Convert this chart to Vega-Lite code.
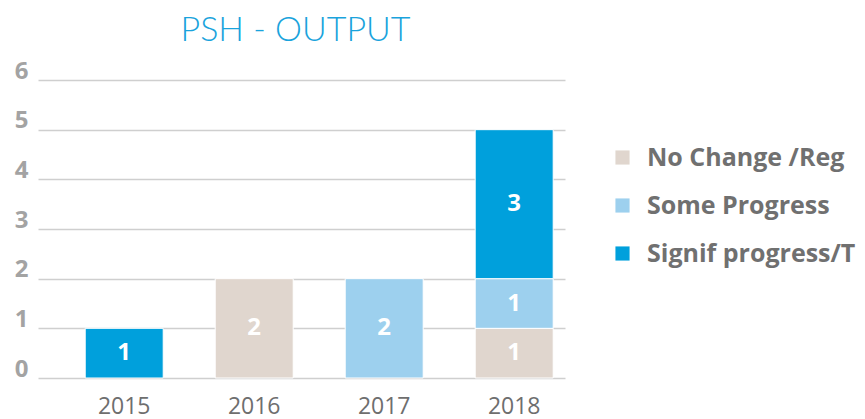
{
  "$schema": "https://vega.github.io/schema/vega-lite/v6.json",
  "autosize": "none",
  "width": 527,
  "height": 298,
  "padding": {"left": 38, "top": 80, "right": 300, "bottom": 41},
  "background": "white",
  "config": {"view": {"stroke": null}},
  "title": {
    "text": "PSH - OUTPUT",
    "font": "Lato",
    "fontWeight": 300,
    "fontSize": 34,
    "color": "#1aa3dc",
    "anchor": "middle",
    "offset": 11,
    "dx": -6
  },
  "data": {
    "values": [
      {"year": "2015", "category": "Signif progress/T", "value": 1, "ord": 3},
      {"year": "2016", "category": "No Change /Reg", "value": 2, "ord": 1},
      {"year": "2017", "category": "Some Progress", "value": 2, "ord": 2},
      {"year": "2018", "category": "No Change /Reg", "value": 1, "ord": 1},
      {"year": "2018", "category": "Some Progress", "value": 1, "ord": 2},
      {"year": "2018", "category": "Signif progress/T", "value": 3, "ord": 3}
    ]
  },
  "encoding": {
    "x": {
      "field": "year",
      "type": "nominal",
      "scale": {"paddingInner": 0.4, "paddingOuter": 0.227, "align": 0.8},
      "axis": {
        "title": null,
        "domain": false,
        "ticks": false,
        "labelAngle": 0,
        "labelFont": "Open Sans",
        "labelFontSize": 23,
        "labelColor": "#6e6e6e",
        "labelPadding": 17
      }
    },
    "y": {
      "field": "value",
      "type": "quantitative",
      "aggregate": "sum",
      "stack": "zero",
      "scale": {"domain": [0, 6], "nice": false},
      "axis": {
        "title": null,
        "domain": false,
        "ticks": false,
        "values": [0, 1, 2, 3, 4, 5, 6],
        "labelOverlap": false,
        "grid": true,
        "gridColor": "#cfcfcf",
        "gridWidth": 1.5,
        "labelFont": "Open Sans",
        "labelFontWeight": "bold",
        "labelFontSize": 24,
        "labelColor": "#a3a3a3",
        "labelPadding": 10,
        "labelBaseline": "alphabetic",
        "labelOffset": -2
      }
    },
    "order": {"field": "ord", "type": "quantitative"}
  },
  "layer": [
    {
      "mark": {"type": "bar", "stroke": "white", "strokeWidth": 1},
      "encoding": {
        "color": {
          "field": "category",
          "type": "nominal",
          "scale": {
            "domain": ["No Change /Reg", "Some Progress", "Signif progress/T"],
            "range": ["#e0d6ce", "#9dd0ee", "#00a0dc"]
          },
          "legend": {
            "title": null,
            "orient": "none",
            "legendX": 572,
            "legendY": 65,
            "symbolType": "square",
            "symbolSize": 200,
            "symbolStrokeWidth": 0,
            "rowPadding": 22,
            "labelFont": "Open Sans",
            "labelFontWeight": "bold",
            "labelFontSize": 25,
            "labelColor": "#707070",
            "labelOffset": 12,
            "labelLimit": 300
          }
        }
      }
    },
    {
      "mark": {
        "type": "text",
        "color": "white",
        "font": "Open Sans",
        "fontWeight": "bold",
        "fontSize": 24,
        "baseline": "middle"
      },
      "encoding": {
        "y": {
          "field": "value",
          "type": "quantitative",
          "aggregate": "sum",
          "stack": "zero",
          "bandPosition": 0.5
        },
        "text": {"field": "value", "type": "quantitative", "aggregate": "sum"},
        "detail": {"field": "category"}
      }
    }
  ]
}
